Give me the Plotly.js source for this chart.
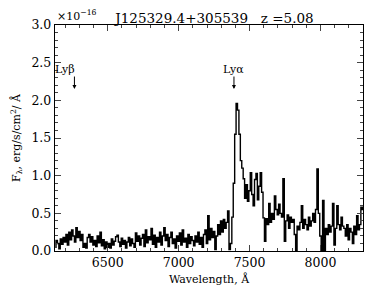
<!DOCTYPE html>
<html><head><meta charset="utf-8">
<script src="https://cdn.plot.ly/plotly-3.0.1.min.js"></script>
<style>html,body{margin:0;padding:0;background:#fff}#c{width:374px;height:299px}</style>
</head><body><div id="c"></div>
<script>
const wlStart = 6130, wlStep = 10;
const flux = [
 0.05,0.14,0.10,0.03,0.16,0.09,0.18,0.12,
 0.22,0.08,0.25,0.15,0.28,0.20,0.12,0.31,0.18,0.26,
 0.14,0.22,0.05,0.10,0.04,0.18,0.22,0.12,0.19,0.08,
 0.14,0.06,0.20,0.11,0.25,0.07,0.15,0.03,0.12,0.05,
 0.10,0.04,0.16,0.08,0.13,0.19,0.21,0.12,0.06,0.17,
 0.09,0.14,0.04,0.12,0.18,0.07,0.16,0.10,0.05,0.24,
 0.13,0.20,0.08,0.17,0.22,0.06,0.28,0.11,0.19,0.15,
 0.30,0.09,0.21,0.05,0.18,0.12,0.25,0.08,0.20,0.31,
 0.14,0.22,0.06,0.18,0.25,0.10,0.16,0.04,0.20,0.13,
 0.24,0.08,0.28,0.12,0.17,0.05,0.22,0.10,0.19,0.14,
 0.07,0.20,0.12,0.25,0.09,0.18,0.05,0.22,0.28,0.10,
 0.47,0.15,0.30,0.18,0.26,0.02,0.20,0.35,0.22,0.40,
 0.25,0.42,0.30,0.38,0.53,0.02,0.10,0.45,0.90,1.55,
 1.96,1.87,1.55,1.20,1.10,0.96,0.70,0.88,0.66,0.80,
 1.04,0.75,0.60,0.95,1.03,0.68,0.86,1.04,0.78,0.44,
 0.13,0.43,0.35,0.63,0.38,0.50,0.42,0.73,0.55,0.48,
 0.62,0.50,0.45,0.96,0.13,0.40,0.48,0.30,0.45,0.38,
 0.42,0.22,0.00,0.33,0.28,0.38,0.60,0.30,0.42,0.35,
 0.28,0.45,0.33,0.40,0.50,0.38,0.55,1.09,0.50,0.20,
 0.00,0.67,0.00,0.30,0.22,0.35,0.25,0.33,0.63,0.08,
 0.30,0.60,0.35,0.28,0.45,0.33,0.30,0.20,0.35,0.15,
 0.30,0.25,0.10,0.33,0.22,0.47,0.28,0.35,0.58,0.55
];
const wavelength = flux.map((_, i) => wlStart + i * wlStep);
const lineNames = ['Lyβ', 'Lyα'];
const lineWl = [6265, 7390];
const xTicks = [6500, 7000, 7500, 8000];
const yTicks = [0, 0.5, 1.0, 1.5, 2.0, 2.5, 3.0];

const font = {family: 'DejaVu Serif', size: 11, color: '#000'};
const tickFont = {family: 'DejaVu Serif', size: 12.5, color: '#000'};
const ann = [];
lineNames.forEach((n, i) => {
  ann.push({x: lineWl[i], y: 2.15, xref: 'x', yref: 'y', text: '', showarrow: true,
    ax: 0, ay: -14, arrowhead: 2, arrowsize: 0.8, arrowwidth: 1, arrowcolor: '#000'});
  ann.push({x: lineWl[i] - (i === 0 ? 65 : 0), y: 2.41, xref: 'x', yref: 'y', text: n,
    showarrow: false, font: font});
});
ann.push({x: 0, y: 1, xref: 'paper', yref: 'paper', xanchor: 'left', yanchor: 'bottom',
  yshift: 0, text: '×10<sup>−16</sup>', showarrow: false, font: {family: 'DejaVu Serif', size: 11, color: '#000'}});

Plotly.newPlot('c', [{
  x: wavelength, y: flux, type: 'scatter', mode: 'lines',
  line: {color: '#000', width: 1.4, shape: 'hvh'}, hoverinfo: 'skip'
}], {
  width: 374, height: 299,
  margin: {l: 55, r: 11, t: 25, b: 48},
  paper_bgcolor: '#fff', plot_bgcolor: '#fff',
  font: font, showlegend: false,
  title: {text: 'J125329.4+305539   z =5.08', font: {family: 'DejaVu Serif', size: 13.5, color: '#000'},
    x: 0.5735, xanchor: 'center', y: 0.94, yanchor: 'middle'},
  xaxis: {range: [6128, 8300], tickvals: xTicks, ticks: 'inside', ticklen: 6, tickwidth: 1,
    showline: true, linecolor: '#000', linewidth: 1.2, mirror: 'ticks', showgrid: false, zeroline: false,
    minor: {dtick: 100, tick0: 6500, ticks: 'inside', ticklen: 3, showgrid: false},
    tickfont: tickFont, title: {text: 'Wavelength, Å', font: font, standoff: 6}},
  yaxis: {range: [0, 3.0], tickvals: yTicks, tickformat: '.1f', ticks: 'inside', ticklen: 6, tickwidth: 1,
    showline: true, linecolor: '#000', linewidth: 1.2, mirror: 'ticks', showgrid: false, zeroline: false,
    minor: {dtick: 0.1, ticks: 'inside', ticklen: 3, showgrid: false},
    tickfont: tickFont, title: {text: 'F<sub>λ</sub>, erg/s/cm<sup>2</sup>/ Å', font: font, standoff: 8}},
  annotations: ann
}, {staticPlot: true});
</script></body></html>
